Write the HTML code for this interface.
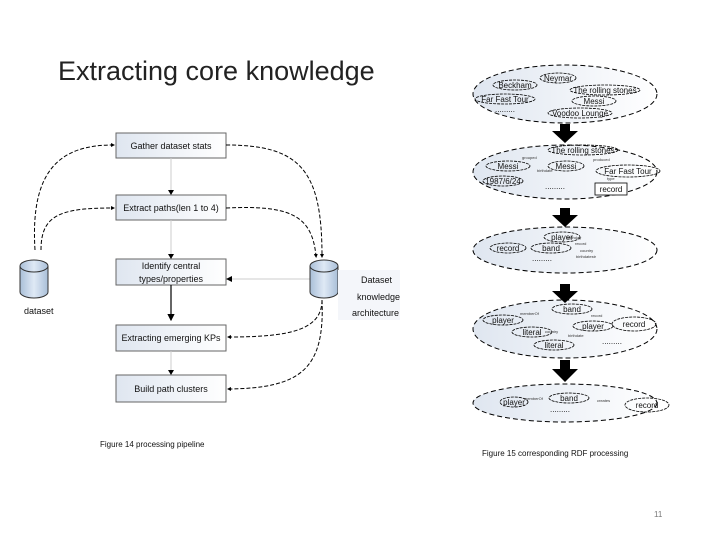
<!DOCTYPE html>
<html><head><meta charset="utf-8"><style>
body{margin:0;background:#fff;}
svg{display:block;font-family:"Liberation Sans",sans-serif;}
</style></head><body>
<svg width="720" height="540" viewBox="0 0 720 540">
<defs>
<marker id="a" markerWidth="6" markerHeight="6" refX="5" refY="3" orient="auto"><path d="M0,0L6,3L0,6z" fill="#000"/></marker>
<marker id="b" markerWidth="4" markerHeight="4" refX="2" refY="2" orient="auto"><path d="M0,0L4,2L0,4z" fill="#000"/></marker>
<linearGradient id="g" x1="0" x2="1"><stop offset="0" stop-color="#dfe6f0"/><stop offset="1" stop-color="#fff"/></linearGradient>
<linearGradient id="c" x1="0" x2="1"><stop offset="0" stop-color="#a9bfd8"/><stop offset=".5" stop-color="#dfe9f5"/><stop offset="1" stop-color="#a9bfd8"/></linearGradient>
</defs>
<text x="58" y="80" font-size="27" fill="#222" font-family="Liberation Sans,sans-serif" font-weight="300">Extracting core knowledge</text>

<!-- boxes -->
<g stroke="#666" stroke-width="1" fill="url(#g)">
<rect x="116" y="133" width="110" height="25"/>
<rect x="116" y="195" width="110" height="25"/>
<rect x="116" y="259" width="110" height="26"/>
<rect x="116" y="325" width="110" height="26"/>
<rect x="116" y="375" width="110" height="27"/>
</g>
<g font-size="9" fill="#111" text-anchor="middle">
<text x="171" y="149">Gather dataset stats</text>
<text x="171" y="211">Extract paths(len 1 to 4)</text>
<text x="171" y="269">Identify central</text>
<text x="171" y="282">types/properties</text>
<text x="171" y="341">Extracting emerging KPs</text>
<text x="171" y="392">Build path clusters</text>
</g>
<!-- vertical connectors -->
<g stroke="#ccc" stroke-width="1">
<line x1="171" y1="158" x2="171" y2="192"/>
<line x1="171" y1="220" x2="171" y2="256"/>
<line x1="171" y1="351" x2="171" y2="372"/>
<line x1="338" y1="279" x2="230" y2="279"/>
</g>
<g fill="#000">
<path d="M168,190L174,190L171,195z"/><path d="M168,254L174,254L171,259z"/><path d="M168,370L174,370L171,375z"/><path d="M232,276L232,282L226,279z"/>
</g>
<line x1="171" y1="285" x2="171" y2="320" stroke="#000" stroke-width="1.2" marker-end="url(#a)"/>
<!-- dashed curves -->
<g fill="none" stroke="#000" stroke-width="1" stroke-dasharray="4,2">
<path d="M35,250 C30,170 60,145 113,145" marker-end="url(#b)"/>
<path d="M41,250 C41,215 60,208 113,208" marker-end="url(#b)"/>
<path d="M226,145 C300,145 322,170 322,256" marker-end="url(#b)"/>
<path d="M226,208 C290,205 312,215 316,256" marker-end="url(#b)"/>
<path d="M322,300 C322,330 290,337 229,337" marker-end="url(#b)"/>
<path d="M322,300 C325,370 300,388 229,389" marker-end="url(#b)"/>
</g>
<!-- cylinders -->
<g stroke="#333" stroke-width="1" fill="url(#c)">
<path d="M20,266 L20,292 A14,6 0 0 0 48,292 L48,266"/>
<ellipse cx="34" cy="266" rx="14" ry="6"/>
<path d="M310,266 L310,292 A14,6 0 0 0 338,292 L338,266"/>
<ellipse cx="324" cy="266" rx="14" ry="6"/>
</g>
<rect x="338" y="270" width="62" height="50" fill="#f4f6fa"/>
<g font-size="9" fill="#111">
<text x="24" y="314">dataset</text>
<text x="361" y="283">Dataset</text>
<text x="357" y="300">knowledge</text>
<text x="352" y="316">architecture</text>
</g>
<text x="100" y="447" font-size="8" fill="#111">Figure 14 processing pipeline</text>
<text x="482" y="456" font-size="8" fill="#111">Figure 15 corresponding RDF processing</text>
<text x="654" y="517" font-size="8" fill="#777">11</text>

<!-- right ellipses -->
<g fill="url(#g)" stroke="#000" stroke-width="1" stroke-dasharray="5,3">
<ellipse cx="565" cy="94" rx="92" ry="29"/>
<ellipse cx="565" cy="172" rx="92" ry="27"/>
<ellipse cx="565" cy="250" rx="92" ry="23"/>
<ellipse cx="565" cy="329" rx="92" ry="29"/>
<ellipse cx="565" cy="403" rx="92" ry="19"/>
</g>
<g fill="#000">
<path d="M560,124h10v7h8l-13,12l-13,-12h8z"/>
<path d="M560,208h10v7h8l-13,12l-13,-12h8z"/>
<path d="M560,284h10v7h8l-13,12l-13,-12h8z"/>
<path d="M560,360h10v9h8l-13,13l-13,-13h8z"/>
</g>
<g fill="none" stroke="#000" stroke-width="0.8" stroke-dasharray="3,1">
<ellipse cx="558" cy="78" rx="18" ry="5"/>
<ellipse cx="515" cy="85" rx="22" ry="5"/>
<ellipse cx="605" cy="90" rx="35" ry="5"/>
<ellipse cx="505" cy="99" rx="30" ry="5"/>
<ellipse cx="594" cy="101" rx="22" ry="5"/>
<ellipse cx="580" cy="113" rx="32" ry="5"/>
<ellipse cx="583" cy="150" rx="35" ry="5"/>
<ellipse cx="508" cy="166" rx="22" ry="5"/>
<ellipse cx="566" cy="166" rx="18" ry="5"/>
<ellipse cx="628" cy="171" rx="32" ry="6"/>
<ellipse cx="503" cy="181" rx="20" ry="5"/>
<ellipse cx="562" cy="237" rx="18" ry="5"/>
<ellipse cx="508" cy="248" rx="18" ry="5"/>
<ellipse cx="551" cy="248" rx="20" ry="5"/>
<ellipse cx="572" cy="309" rx="20" ry="5"/>
<ellipse cx="503" cy="320" rx="20" ry="5"/>
<ellipse cx="532" cy="332" rx="20" ry="5"/>
<ellipse cx="593" cy="326" rx="20" ry="5"/>
<ellipse cx="634" cy="324" rx="22" ry="7"/>
<ellipse cx="554" cy="345" rx="20" ry="5"/>
<ellipse cx="514" cy="402" rx="14" ry="5"/>
<ellipse cx="569" cy="398" rx="20" ry="5"/>
<ellipse cx="647" cy="405" rx="22" ry="7"/>
</g>
<rect x="595" y="183" width="32" height="12" fill="#fff" stroke="#000" stroke-width="0.8"/>
<g font-size="8" fill="#111" text-anchor="middle">
<text x="558" y="81">Neymar</text>
<text x="515" y="88">Beckham</text>
<text x="605" y="93">The rolling stones</text>
<text x="505" y="102">Far Fast Tour</text>
<text x="594" y="104">Messi</text>
<text x="580" y="116">Voodoo Lounge</text>
<text x="505" y="112">.........</text>
<text x="583" y="153">The rolling stones</text>
<text x="508" y="169">Messi</text>
<text x="566" y="169">Messi</text>
<text x="628" y="174">Far Fast Tour</text>
<text x="503" y="184">1987/6/24</text>
<text x="611" y="192">record</text>
<text x="555" y="189">.........</text>
<text x="562" y="240">player</text>
<text x="508" y="251">record</text>
<text x="551" y="251">band</text>
<text x="542" y="261">.........</text>
<text x="572" y="312">band</text>
<text x="503" y="323">player</text>
<text x="532" y="335">literal</text>
<text x="593" y="329">player</text>
<text x="634" y="327">record</text>
<text x="554" y="348">literal</text>
<text x="612" y="344">.........</text>
<text x="514" y="405">player</text>
<text x="569" y="401">band</text>
<text x="647" y="408">record</text>
<text x="560" y="412">.........</text>
</g>
<g font-size="4" fill="#333">
<text x="522" y="159">grouped</text><text x="537" y="172">birthdate</text><text x="593" y="161">produced</text><text x="607" y="180">type</text>
<text x="567" y="239">birthday</text><text x="575" y="245">record</text><text x="580" y="252">country</text><text x="576" y="258">birthdatestr</text>
<text x="520" y="315">memberOf</text><text x="591" y="317">record</text><text x="545" y="333">country</text><text x="568" y="337">birthdate</text>
<text x="524" y="400">memberOf</text><text x="597" y="402">creates</text>
</g>
</svg>
</body></html>
